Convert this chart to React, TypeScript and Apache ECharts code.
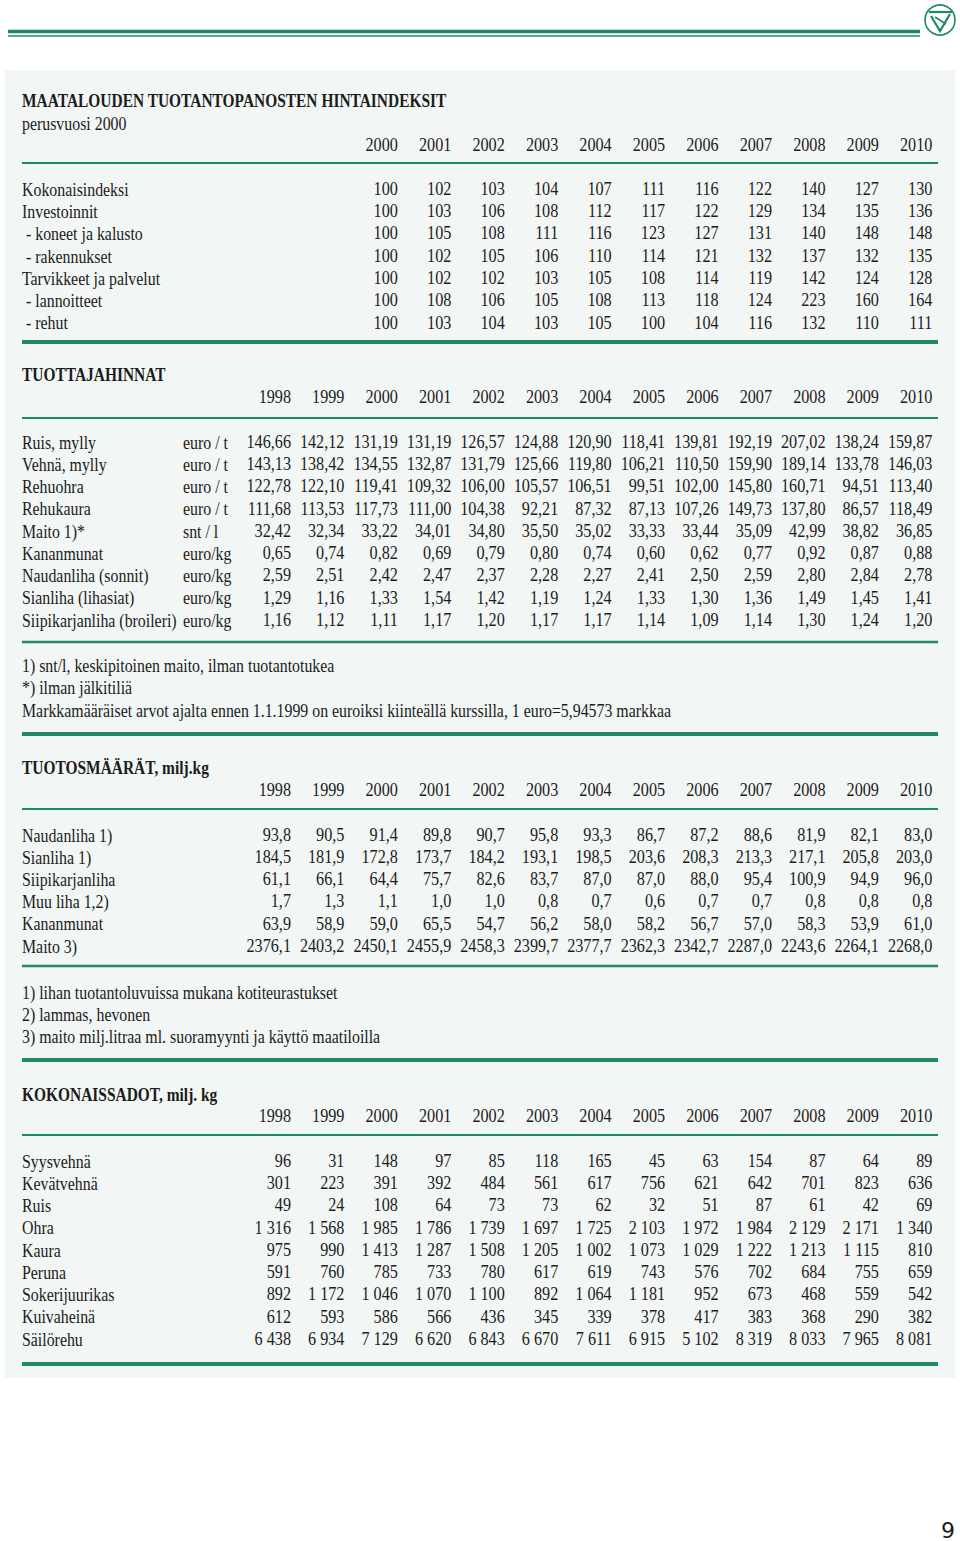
import React, { useEffect, useRef } from "react";
import * as echarts from "echarts";

// ---------- DATA ----------
const yearsLong = ["1998", "1999", "2000", "2001", "2002", "2003", "2004", "2005", "2006", "2007", "2008", "2009", "2010"];
const yearsIndex = ["2000", "2001", "2002", "2003", "2004", "2005", "2006", "2007", "2008", "2009", "2010"];

const indexTitle = "MAATALOUDEN TUOTANTOPANOSTEN HINTAINDEKSIT";
const indexSubtitle = "perusvuosi 2000";
const indexLabels = ["Kokonaisindeksi", "Investoinnit", "- koneet ja kalusto", "- rakennukset", "Tarvikkeet ja palvelut", "- lannoitteet", "- rehut"];
const indexKokonais = [100, 102, 103, 104, 107, 111, 116, 122, 140, 127, 130];
const indexInvestoinnit = [100, 103, 106, 108, 112, 117, 122, 129, 134, 135, 136];
const indexKoneet = [100, 105, 108, 111, 116, 123, 127, 131, 140, 148, 148];
const indexRakennukset = [100, 102, 105, 106, 110, 114, 121, 132, 137, 132, 135];
const indexTarvikkeet = [100, 102, 102, 103, 105, 108, 114, 119, 142, 124, 128];
const indexLannoitteet = [100, 108, 106, 105, 108, 113, 118, 124, 223, 160, 164];
const indexRehut = [100, 103, 104, 103, 105, 100, 104, 116, 132, 110, 111];

const priceTitle = "TUOTTAJAHINNAT";
const priceLabels = ["Ruis, mylly", "Vehnä, mylly", "Rehuohra", "Rehukaura", "Maito 1)*", "Kananmunat", "Naudanliha (sonnit)", "Sianliha (lihasiat)", "Siipikarjanliha (broileri)"];
const priceUnits = ["euro / t", "euro / t", "euro / t", "euro / t", "snt / l", "euro/kg", "euro/kg", "euro/kg", "euro/kg"];
const priceRuis = [146.66, 142.12, 131.19, 131.19, 126.57, 124.88, 120.9, 118.41, 139.81, 192.19, 207.02, 138.24, 159.87];
const priceVehna = [143.13, 138.42, 134.55, 132.87, 131.79, 125.66, 119.8, 106.21, 110.5, 159.9, 189.14, 133.78, 146.03];
const priceRehuohra = [122.78, 122.1, 119.41, 109.32, 106.0, 105.57, 106.51, 99.51, 102.0, 145.8, 160.71, 94.51, 113.4];
const priceRehukaura = [111.68, 113.53, 117.73, 111.0, 104.38, 92.21, 87.32, 87.13, 107.26, 149.73, 137.8, 86.57, 118.49];
const priceMaito = [32.42, 32.34, 33.22, 34.01, 34.8, 35.5, 35.02, 33.33, 33.44, 35.09, 42.99, 38.82, 36.85];
const priceKananmunat = [0.65, 0.74, 0.82, 0.69, 0.79, 0.8, 0.74, 0.6, 0.62, 0.77, 0.92, 0.87, 0.88];
const priceNaudanliha = [2.59, 2.51, 2.42, 2.47, 2.37, 2.28, 2.27, 2.41, 2.5, 2.59, 2.8, 2.84, 2.78];
const priceSianliha = [1.29, 1.16, 1.33, 1.54, 1.42, 1.19, 1.24, 1.33, 1.3, 1.36, 1.49, 1.45, 1.41];
const priceSiipikarja = [1.16, 1.12, 1.11, 1.17, 1.2, 1.17, 1.17, 1.14, 1.09, 1.14, 1.3, 1.24, 1.2];
const priceNotes = [
  "1) snt/l, keskipitoinen maito, ilman tuotantotukea",
  "*) ilman jälkitiliä",
  "Markkamääräiset arvot ajalta ennen 1.1.1999 on euroiksi kiinteällä kurssilla, 1 euro=5,94573 markkaa",
];

const prodTitle = "TUOTOSMÄÄRÄT, milj.kg";
const prodLabels = ["Naudanliha 1)", "Sianliha 1)", "Siipikarjanliha", "Muu liha 1,2)", "Kananmunat", "Maito 3)"];
const prodNaudanliha = [93.8, 90.5, 91.4, 89.8, 90.7, 95.8, 93.3, 86.7, 87.2, 88.6, 81.9, 82.1, 83.0];
const prodSianliha = [184.5, 181.9, 172.8, 173.7, 184.2, 193.1, 198.5, 203.6, 208.3, 213.3, 217.1, 205.8, 203.0];
const prodSiipikarja = [61.1, 66.1, 64.4, 75.7, 82.6, 83.7, 87.0, 87.0, 88.0, 95.4, 100.9, 94.9, 96.0];
const prodMuuLiha = [1.7, 1.3, 1.1, 1.0, 1.0, 0.8, 0.7, 0.6, 0.7, 0.7, 0.8, 0.8, 0.8];
const prodKananmunat = [63.9, 58.9, 59.0, 65.5, 54.7, 56.2, 58.0, 58.2, 56.7, 57.0, 58.3, 53.9, 61.0];
const prodMaito = [2376.1, 2403.2, 2450.1, 2455.9, 2458.3, 2399.7, 2377.7, 2362.3, 2342.7, 2287.0, 2243.6, 2264.1, 2268.0];
const prodNotes = [
  "1) lihan tuotantoluvuissa mukana kotiteurastukset",
  "2) lammas, hevonen",
  "3) maito milj.litraa ml. suoramyynti ja käyttö maatiloilla",
];

const cropTitle = "KOKONAISSADOT, milj. kg";
const cropLabels = ["Syysvehnä", "Kevätvehnä", "Ruis", "Ohra", "Kaura", "Peruna", "Sokerijuurikas", "Kuivaheinä", "Säilörehu"];
const cropSyysvehna = [96, 31, 148, 97, 85, 118, 165, 45, 63, 154, 87, 64, 89];
const cropKevatvehna = [301, 223, 391, 392, 484, 561, 617, 756, 621, 642, 701, 823, 636];
const cropRuis = [49, 24, 108, 64, 73, 73, 62, 32, 51, 87, 61, 42, 69];
const cropOhra = [1316, 1568, 1985, 1786, 1739, 1697, 1725, 2103, 1972, 1984, 2129, 2171, 1340];
const cropKaura = [975, 990, 1413, 1287, 1508, 1205, 1002, 1073, 1029, 1222, 1213, 1115, 810];
const cropPeruna = [591, 760, 785, 733, 780, 617, 619, 743, 576, 702, 684, 755, 659];
const cropSokerijuurikas = [892, 1172, 1046, 1070, 1100, 892, 1064, 1181, 952, 673, 468, 559, 542];
const cropKuivaheina = [612, 593, 586, 566, 436, 345, 339, 378, 417, 383, 368, 290, 382];
const cropSailorehu = [6438, 6934, 7129, 6620, 6843, 6670, 7611, 6915, 5102, 8319, 8033, 7965, 8081];

const pageNumber = "9";

// ---------- LAYOUT / STYLE ----------
const GREEN = "#1f8a62";
const INK = "#1c1c1c";
const FONT = "'Liberation Serif', 'Times New Roman', serif";
const LEFT = 22;
const RIGHT = 938;
const COL0 = 291;
const COLW = 53.45;
const LABEL_SIZE = 19;
const LABEL_SX = 0.835;
const NUM_SX = 0.9;
const TITLE_SX = 0.858;

function fmt(v: number, dec: number, group = false): string {
  const s = v.toFixed(dec);
  let [ip, fp] = s.split(".");
  if (group && ip.length > 3) ip = ip.slice(0, ip.length - 3) + " " + ip.slice(ip.length - 3);
  return fp !== undefined ? ip + "," + fp : ip;
}

function txt(x: number, y: number, text: string, o: any = {}) {
  const align = o.align || "left";
  return {
    type: "text",
    x,
    y,
    scaleX: o.sx ?? LABEL_SX,
    silent: true,
    style: {
      text,
      fill: o.fill || INK,
      fontSize: o.size || LABEL_SIZE,
      fontFamily: o.family || FONT,
      fontWeight: o.bold ? "bold" : "normal",
      align,
      textAlign: align,
      verticalAlign: "middle",
      textVerticalAlign: "middle",
    },
  };
}

function num(x: number, y: number, text: string) {
  return txt(x, y, text, { align: "right", sx: NUM_SX, size: 18 });
}

function hline(y: number, w: number, x1 = LEFT, x2 = RIGHT, color = GREEN) {
  return { type: "rect", silent: true, shape: { x: x1, y: y - w / 2, width: x2 - x1, height: w }, style: { fill: color } };
}

function colX(i: number) {
  return COL0 + i * COLW;
}

function buildElements() {
  const els: any[] = [];
  // page background panel
  els.push({ type: "rect", silent: true, shape: { x: 5, y: 70, width: 950, height: 1308 }, style: { fill: "#f2f6f4" } });
  // top double rule
  els.push(hline(31.5, 3.5, 8, 920, GREEN));
  els.push(hline(36, 1.6, 8, 920, GREEN));
  // logo
  els.push({ type: "circle", silent: true, shape: { cx: 940, cy: 20, r: 15 }, style: { fill: "#ffffff", stroke: GREEN, lineWidth: 1.6 } });
  els.push({ type: "polyline", silent: true, shape: { points: [[929, 12], [952, 12]] }, style: { stroke: GREEN, lineWidth: 2.2, fill: "none" } });
  els.push({ type: "polyline", silent: true, shape: { points: [[931, 16], [940, 31], [950, 14]] }, style: { stroke: GREEN, lineWidth: 2.2, fill: "none" } });
  els.push({ type: "polyline", silent: true, shape: { points: [[935, 17], [946, 24]] }, style: { stroke: GREEN, lineWidth: 1.6, fill: "none" } });

  // ---- Section 1 ----
  els.push(txt(LEFT, 101, indexTitle, { bold: true, sx: TITLE_SX, size: 18 }));
  els.push(txt(LEFT, 123, indexSubtitle));
  yearsIndex.forEach((y, i) => els.push(num(colX(i + 2), 145, y)));
  els.push(hline(163, 2.2));
  const indexRows = [indexKokonais, indexInvestoinnit, indexKoneet, indexRakennukset, indexTarvikkeet, indexLannoitteet, indexRehut];
  indexRows.forEach((row, r) => {
    const y = 189 + r * 22.33;
    const lab = indexLabels[r];
    els.push(txt(lab.startsWith("-") ? LEFT + 4 : LEFT, y, lab));
    row.forEach((v, i) => els.push(num(colX(i + 2), y, fmt(v, 0))));
  });
  els.push(hline(342, 4));

  // ---- Section 2 ----
  els.push(txt(LEFT, 375, priceTitle, { bold: true, sx: TITLE_SX, size: 18 }));
  yearsLong.forEach((y, i) => els.push(num(colX(i), 397, y)));
  els.push(hline(418, 2.2));
  const priceRows = [priceRuis, priceVehna, priceRehuohra, priceRehukaura, priceMaito, priceKananmunat, priceNaudanliha, priceSianliha, priceSiipikarja];
  priceRows.forEach((row, r) => {
    const y = 442 + r * 22.25;
    els.push(txt(LEFT, y, priceLabels[r]));
    els.push(txt(183, y, priceUnits[r]));
    row.forEach((v, i) => els.push(num(colX(i), y, fmt(v, 2))));
  });
  els.push(hline(642, 2.4));
  priceNotes.forEach((n, k) => els.push(txt(LEFT, 665 + k * 22.5, n)));
  els.push(hline(734, 4));

  // ---- Section 3 ----
  els.push(txt(LEFT, 768, prodTitle, { bold: true, sx: TITLE_SX, size: 18 }));
  yearsLong.forEach((y, i) => els.push(num(colX(i), 790, y)));
  els.push(hline(809, 2.2));
  const prodRows = [prodNaudanliha, prodSianliha, prodSiipikarja, prodMuuLiha, prodKananmunat, prodMaito];
  prodRows.forEach((row, r) => {
    const y = 835 + r * 22.2;
    els.push(txt(LEFT, y, prodLabels[r]));
    row.forEach((v, i) => els.push(num(colX(i), y, fmt(v, 1))));
  });
  els.push(hline(966, 2.4));
  prodNotes.forEach((n, k) => els.push(txt(LEFT, 992 + k * 22, n)));
  els.push(hline(1060, 4));

  // ---- Section 4 ----
  els.push(txt(LEFT, 1095, cropTitle, { bold: true, sx: TITLE_SX, size: 18 }));
  yearsLong.forEach((y, i) => els.push(num(colX(i), 1116, y)));
  els.push(hline(1135, 2.2));
  const cropRows = [cropSyysvehna, cropKevatvehna, cropRuis, cropOhra, cropKaura, cropPeruna, cropSokerijuurikas, cropKuivaheina, cropSailorehu];
  cropRows.forEach((row, r) => {
    const y = 1161 + r * 22.25;
    els.push(txt(LEFT, y, cropLabels[r]));
    row.forEach((v, i) => els.push(num(colX(i), y, fmt(v, 0, true))));
  });
  els.push(hline(1364, 4));

  // page number
  els.push(txt(955, 1530, pageNumber, { align: "right", sx: 1, size: 22, family: "'DejaVu Sans', sans-serif" }));
  return els;
}

export default function App() {
  const ref = useRef<HTMLDivElement>(null);
  useEffect(() => {
    document.body.style.margin = "0";
    const chart = echarts.init(ref.current!, undefined, { renderer: "svg" });
    chart.setOption({
      animation: false,
      backgroundColor: "#ffffff",
      graphic: { elements: buildElements() },
    });
    return () => chart.dispose();
  }, []);
  return <div ref={ref} style={{ width: 960, height: 1541 }} />;
}
